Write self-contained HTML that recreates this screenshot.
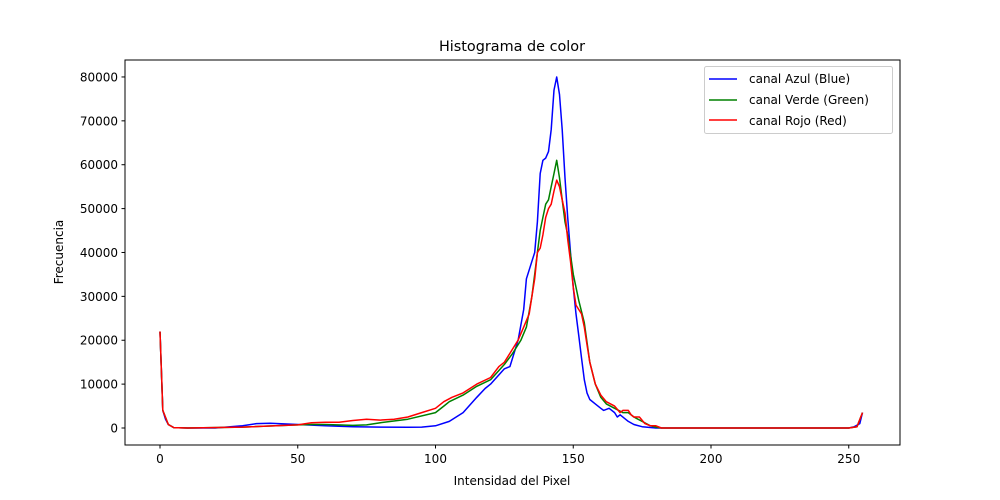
<!DOCTYPE html>
<html><head><meta charset="utf-8"><style>
body{margin:0;background:#fff}
svg{display:block;font-family:"DejaVu Sans","Liberation Sans",sans-serif}
</style></head><body>
<svg id="s" width="1000" height="500" viewBox="0 0 1000 500">
<rect width="1000" height="500" fill="#fff"/>
<g id="lines"></g>
<rect x="125" y="60" width="775" height="385" fill="none" stroke="#000" stroke-width="1"/>
<g id="ticks" font-size="12"></g>
<text x="512" y="51" font-size="14.4" text-anchor="middle">Histograma de color</text>
<text x="512" y="485" font-size="12" text-anchor="middle">Intensidad del Pixel</text>
<text transform="translate(63,252) rotate(-90)" font-size="12" text-anchor="middle">Frecuencia</text>
<rect x="704.5" y="66.5" width="188" height="67" rx="2" fill="#fff" stroke="#ccc"/>
<line x1="709" y1="79" x2="737" y2="79" stroke="#0000ff" stroke-width="1.5"/>
<line x1="709" y1="100" x2="737" y2="100" stroke="#008000" stroke-width="1.5"/>
<line x1="709" y1="120" x2="737" y2="120" stroke="#ff0000" stroke-width="1.5"/>
<text x="749" y="83" font-size="12">canal Azul (Blue)</text>
<text x="749" y="104" font-size="12">canal Verde (Green)</text>
<text x="749" y="125" font-size="12">canal Rojo (Red)</text>
</svg>
<script>
var X=v=>160+2.755*v, Y=f=>428-f*0.004388;
function p(a){var s=[];for(var i=0;i<a.length;i+=2)s.push(X(a[i]).toFixed(1)+','+Y(a[i+1]).toFixed(1));return s.join(' ');}
var B=[0,22000,1,4000,2,2000,3,800,5,100,10,0,20,0,30,500,35,1000,40,1100,50,800,60,500,70,300,80,200,90,150,95,200,100,500,105,1500,110,3500,115,7000,118,9000,120,10000,125,13500,127,14000,130,20000,132,27000,133,34000,135,38000,136,40000,137,47000,138,58000,139,61000,140,61500,141,63000,142,68000,143,77000,144,80000,145,76000,146,68000,147,57000,148,48000,149,40000,150,32000,151,26000,152,21000,153,16000,154,11000,155,8000,156,6500,158,5500,160,4500,161,4000,163,4500,165,3500,166,2500,167,3000,170,1500,172,800,175,300,180,0,250,0,252,300,254,1000,255,3500];
var G=[0,22000,1,4000,3,800,5,100,10,0,30,200,50,700,55,800,60,800,70,600,75,700,80,1200,90,2000,100,3500,103,5000,105,6000,110,7500,115,9500,120,11000,125,14500,128,17000,131,20000,133,23000,135,30000,136,35000,137,40000,138,45000,139,48000,140,51000,141,52000,142,55000,143,58000,144,61000,145,57000,146,52000,147,47000,148,44000,150,35000,152,29000,154,24000,156,15000,158,10000,160,7000,162,5500,165,4500,168,3500,170,3500,172,2500,175,1500,178,500,180,200,182,0,250,0,253,300,255,3500];
var R=[0,22000,1,4000,3,800,5,100,10,0,30,200,50,700,55,1200,60,1300,65,1300,70,1700,75,2000,80,1800,85,2000,90,2500,95,3500,100,4500,103,6000,106,7000,110,8000,115,10000,120,11500,123,14000,125,15000,128,18000,130,20000,132,23000,134,26000,135,30000,136,34000,137,40000,138,41000,139,44000,140,48000,141,50000,142,51000,143,54000,144,56500,145,55000,146,52000,147,49000,148,43000,149,38000,150,32000,151,28000,153,26000,154,23000,155,19000,156,15000,158,10000,160,7500,162,6000,165,5000,167,3500,168,4000,170,4000,171,3000,172,2500,174,2500,176,1000,178,500,180,500,182,0,250,0,253,300,255,3500];
var L='';[[B,'#0000ff'],[G,'#008000'],[R,'#ff0000']].forEach(function(d){L+='<polyline points="'+p(d[0])+'" fill="none" stroke="'+d[1]+'" stroke-width="1.5" stroke-linejoin="round"/>';});
document.getElementById('lines').innerHTML=L;
var T='';
for(var v=0;v<=250;v+=50){var x=X(v);T+='<line x1="'+x+'" y1="445" x2="'+x+'" y2="448.5" stroke="#000"/><text x="'+x+'" y="463" text-anchor="middle">'+v+'</text>';}
for(var f=0;f<=80000;f+=10000){var y=Y(f);T+='<line x1="121.5" y1="'+y+'" x2="125" y2="'+y+'" stroke="#000"/><text x="118" y="'+(y+4.5)+'" text-anchor="end">'+f+'</text>';}
document.getElementById('ticks').innerHTML=T;
</script>
</body></html>
